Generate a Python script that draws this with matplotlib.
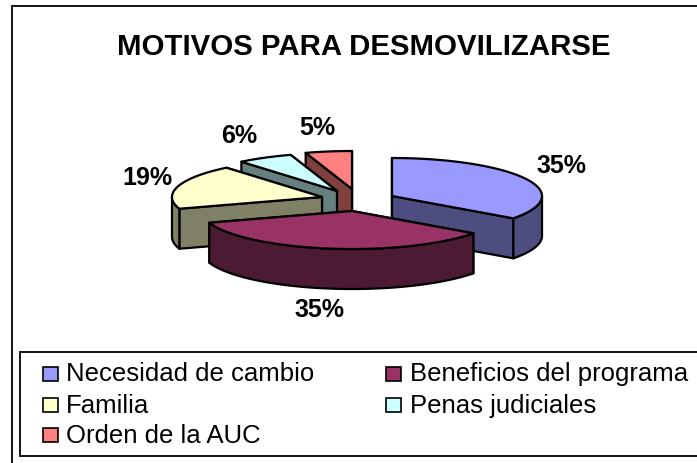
import numpy as np
import matplotlib
matplotlib.use('Agg')
import matplotlib.pyplot as plt
from matplotlib.patches import Polygon, Rectangle

categories = ['Necesidad de cambio', 'Beneficios del programa', 'Familia',
              'Penas judiciales', 'Orden de la AUC']
values = [35, 35, 19, 6, 5]
pct_labels = ['35%', '35%', '19%', '6%', '5%']
title = 'MOTIVOS PARA DESMOVILIZARSE'

top_colors = ['#9999FF', '#993366', '#FFFFCC', '#CCFFFF', '#FF8080']
side_colors = ['#4D4D80', '#4D1A33', '#808066', '#668080', '#804040']

# vertice de cada porcion despues de separarla (pixeles)
apex = [(392, 197), (352, 212), (322, 198), (337, 192), (352, 190)]
label_pos = [(561, 166), (319, 310), (147, 178), (239, 136), (317, 128)]
swatch_pos = [(43, 375), (386, 375), (43, 406), (386, 406), (43, 436)]
text_pos = [(66, 381), (410, 381), (66, 413), (410, 413), (66, 443)]

RX, RY, DEPTH = 150, 38, 40

plt.rcParams['font.family'] = ['Liberation Sans', 'DejaVu Sans']
fig = plt.figure(figsize=(6.97, 4.64), dpi=100)
ax = fig.add_axes([0, 0, 1, 1])
ax.set_xlim(0, 697)
ax.set_ylim(464, 0)
ax.axis('off')

# marcos del grafico y de la leyenda (se salen por la derecha y por abajo)
ax.add_patch(Rectangle((12, 7), 700, 470, fc='white', ec='black', lw=1.3))
ax.add_patch(Rectangle((20, 353), 700, 104, fc='white', ec='black', lw=1.3))

ax.text(364, 55, title, ha='center', va='baseline', fontsize=21.2,
        fontweight='bold')


def rim(cx, cy, a0, a1, n=60):
    t = np.radians(np.linspace(a0, a1, n))
    return cx + RX * np.sin(t), cy - RY * np.cos(t)


def draw_slice(i, a0, a1):
    cx, cy = apex[i]
    side = dict(fc=side_colors[i], ec='black', lw=1.6, joinstyle='round')
    # caras interiores, primero la de atras
    corners = sorted((rim(cx, cy, a, a, 1) for a in (a0, a1)), key=lambda c: c[1][0])
    for x, y in corners:
        ax.add_patch(Polygon([(cx, cy), (x[0], y[0]), (x[0], y[0] + DEPTH),
                              (cx, cy + DEPTH)], **side))
    # borde exterior visible
    b0, b1 = max(a0, 90), min(a1, 270)
    if b1 > b0:
        x, y = rim(cx, cy, b0, b1)
        pts = list(zip(x, y)) + list(zip(x[::-1], y[::-1] + DEPTH))
        ax.add_patch(Polygon(pts, **side))
    # tapa
    x, y = rim(cx, cy, a0, a1)
    ax.add_patch(Polygon([(cx, cy)] + list(zip(x, y)), fc=top_colors[i],
                         ec='black', lw=1.6, joinstyle='round'))


edges = np.concatenate([[0], np.cumsum(values)]) / sum(values) * 360
for i in [4, 3, 2, 0, 1]:  # de atras hacia adelante
    draw_slice(i, edges[i], edges[i + 1])

for lab, (x, y) in zip(pct_labels, label_pos):
    ax.text(x, y, lab, ha='center', va='center', fontsize=18, fontweight='bold')

for i, name in enumerate(categories):
    x, y = swatch_pos[i]
    ax.add_patch(Rectangle((x, y - 7), 15, 14, fc=top_colors[i], ec='black', lw=1.2))
    ax.text(text_pos[i][0], text_pos[i][1], name, ha='left', va='baseline', fontsize=18.5)

fig.savefig('out.png', dpi=100)
